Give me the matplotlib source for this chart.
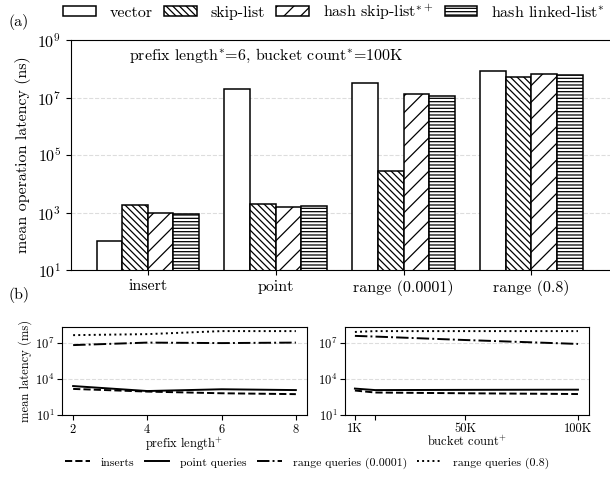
import matplotlib
matplotlib.use('Agg')
import matplotlib.pyplot as plt
from matplotlib.patches import Patch
from matplotlib.lines import Line2D

plt.rcParams['font.family'] = 'cmr10'
plt.rcParams['mathtext.fontset'] = 'cm'
plt.rcParams['axes.formatter.use_mathtext'] = True
plt.rcParams['axes.unicode_minus'] = False
plt.rcParams['hatch.linewidth'] = 0.9

# (a) mean operation latency (ns) per memtable, at prefix length 6 / bucket count 100K
ops = ['insert', 'point', 'range (0.0001)', 'range (0.8)']
memtables = ['vector', 'skip-list', r'hash skip-list$^{*+}$', r'hash linked-list$^{*}$']
vector_lat = [100, 1.9e7, 3.2e7, 8.3e7]
skiplist_lat = [1800, 2000, 2.7e4, 5.0e7]
hash_skip_lat = [1000, 1600, 1.35e7, 6.6e7]
hash_linked_lat = [870, 1700, 1.15e7, 6.2e7]
hatches = ['', '\\\\\\\\\\', '//', '-----']

# (b) sweeps
prefix_len = [2, 4, 6, 8]
pl_inserts = [1500, 900, 650, 550]
pl_point = [2600, 1000, 1400, 1200]
pl_range_small = [6.8e6, 1.1e7, 1.0e7, 1.1e7]
pl_range_large = [4.6e7, 5.6e7, 1.0e8, 1.0e8]

bucket_count = [1000, 10000, 50000, 100000]
bc_inserts = [1100, 750, 650, 560]
bc_point = [1600, 1200, 1250, 1300]
bc_range_small = [4.0e7, 3.5e7, 1.8e7, 8.5e6]
bc_range_large = [8.5e7, 1.0e8, 1.0e8, 1.0e8]

series_names = ['inserts', 'point queries', 'range queries (0.0001)', 'range queries (0.8)']
styles = ['--', '-', '-.', ':']

fig = plt.figure(figsize=(6.1, 4.78), dpi=100)
W, H = 610.0, 478.0

# ---- panel (a)
ax = fig.add_axes([71 / W, 1 - 270 / H, 550 / W, 230 / H])
width = 0.2
series = [vector_lat, skiplist_lat, hash_skip_lat, hash_linked_lat]
for i, vals in enumerate(series):
    xs = [g + (i - 1.5) * width for g in range(len(ops))]
    ax.bar(xs, vals, width, bottom=0, color='white', edgecolor='black',
           linewidth=1.1, hatch=hatches[i], label=memtables[i])
ax.set_yscale('log')
ax.set_ylim(10, 1e9)
ax.set_xlim(-0.6, 3.7)
ax.set_xticks(range(len(ops)))
ax.set_xticklabels(ops, fontsize=11.5)
ax.set_yticks([1e1, 1e3, 1e5, 1e7, 1e9])
ax.minorticks_off()
ax.tick_params(axis='y', labelsize=11.5)
ax.set_ylabel('mean operation latency (ns)', fontsize=11.5)
ax.yaxis.grid(True, linestyle='--', color='#dddddd', linewidth=0.8)
ax.set_axisbelow(True)
ax.text(0.105, 0.93, r'prefix length$^{*}$=6, bucket count$^{*}$=100K',
        transform=ax.transAxes, fontsize=11.5, va='center')

handles = [Patch(facecolor='white', edgecolor='black', hatch=h, linewidth=1.1)
           for h in hatches]
fig.legend(handles, memtables, loc='center', ncol=4, frameon=False,
           bbox_to_anchor=(334 / W, 1 - 12 / H), fontsize=11.5,
           handlelength=2.05, handleheight=0.6, columnspacing=0.7,
           handletextpad=0.87, borderpad=0.2)

fig.text(8 / W, 1 - 22 / H, '(a)', fontsize=11.5, va='center')
fig.text(8 / W, 1 - 295 / H, '(b)', fontsize=11.5, va='center')

# ---- panel (b)
def sweep(ax, x, ys, xlabel):
    for vals, ls in zip(ys, styles):
        ax.plot(x, vals, linestyle=ls, color='black', linewidth=1.4)
    ax.set_yscale('log')
    ax.set_ylim(10, 2.2e8)
    ax.set_yticks([1e1, 1e4, 1e7])
    ax.minorticks_off()
    ax.yaxis.grid(True, linestyle='--', color='#dddddd', linewidth=0.8)
    ax.set_axisbelow(True)
    ax.tick_params(labelsize=9, pad=2)
    ax.set_xlabel(xlabel, fontsize=9, labelpad=0)

axl = fig.add_axes([62 / W, 1 - 415 / H, 245 / W, 88 / H])
sweep(axl, prefix_len,
      [pl_inserts, pl_point, pl_range_small, pl_range_large],
      r'prefix length$^{+}$')
axl.set_xlim(1.7, 8.3)
axl.set_xticks(prefix_len)
axl.set_ylabel('mean latency (ms)', fontsize=9, labelpad=2)

axr = fig.add_axes([345 / W, 1 - 415 / H, 244 / W, 88 / H])
sweep(axr, bucket_count,
      [bc_inserts, bc_point, bc_range_small, bc_range_large],
      r'bucket count$^{+}$')
axr.set_xlim(-3400, 104900)
axr.set_xticks(bucket_count)
axr.set_xticklabels(['1K', '', '50K', '100K'])

line_handles = [Line2D([], [], color='black', linestyle=ls, linewidth=1.4)
                for ls in styles]
fig.legend(line_handles, series_names, loc='center', ncol=4, frameon=False,
           bbox_to_anchor=(307 / W, 1 - 463 / H), fontsize=8.5,
           handlelength=2.1, columnspacing=0.9, handletextpad=0.9)

fig.savefig('out.png', dpi=100)
